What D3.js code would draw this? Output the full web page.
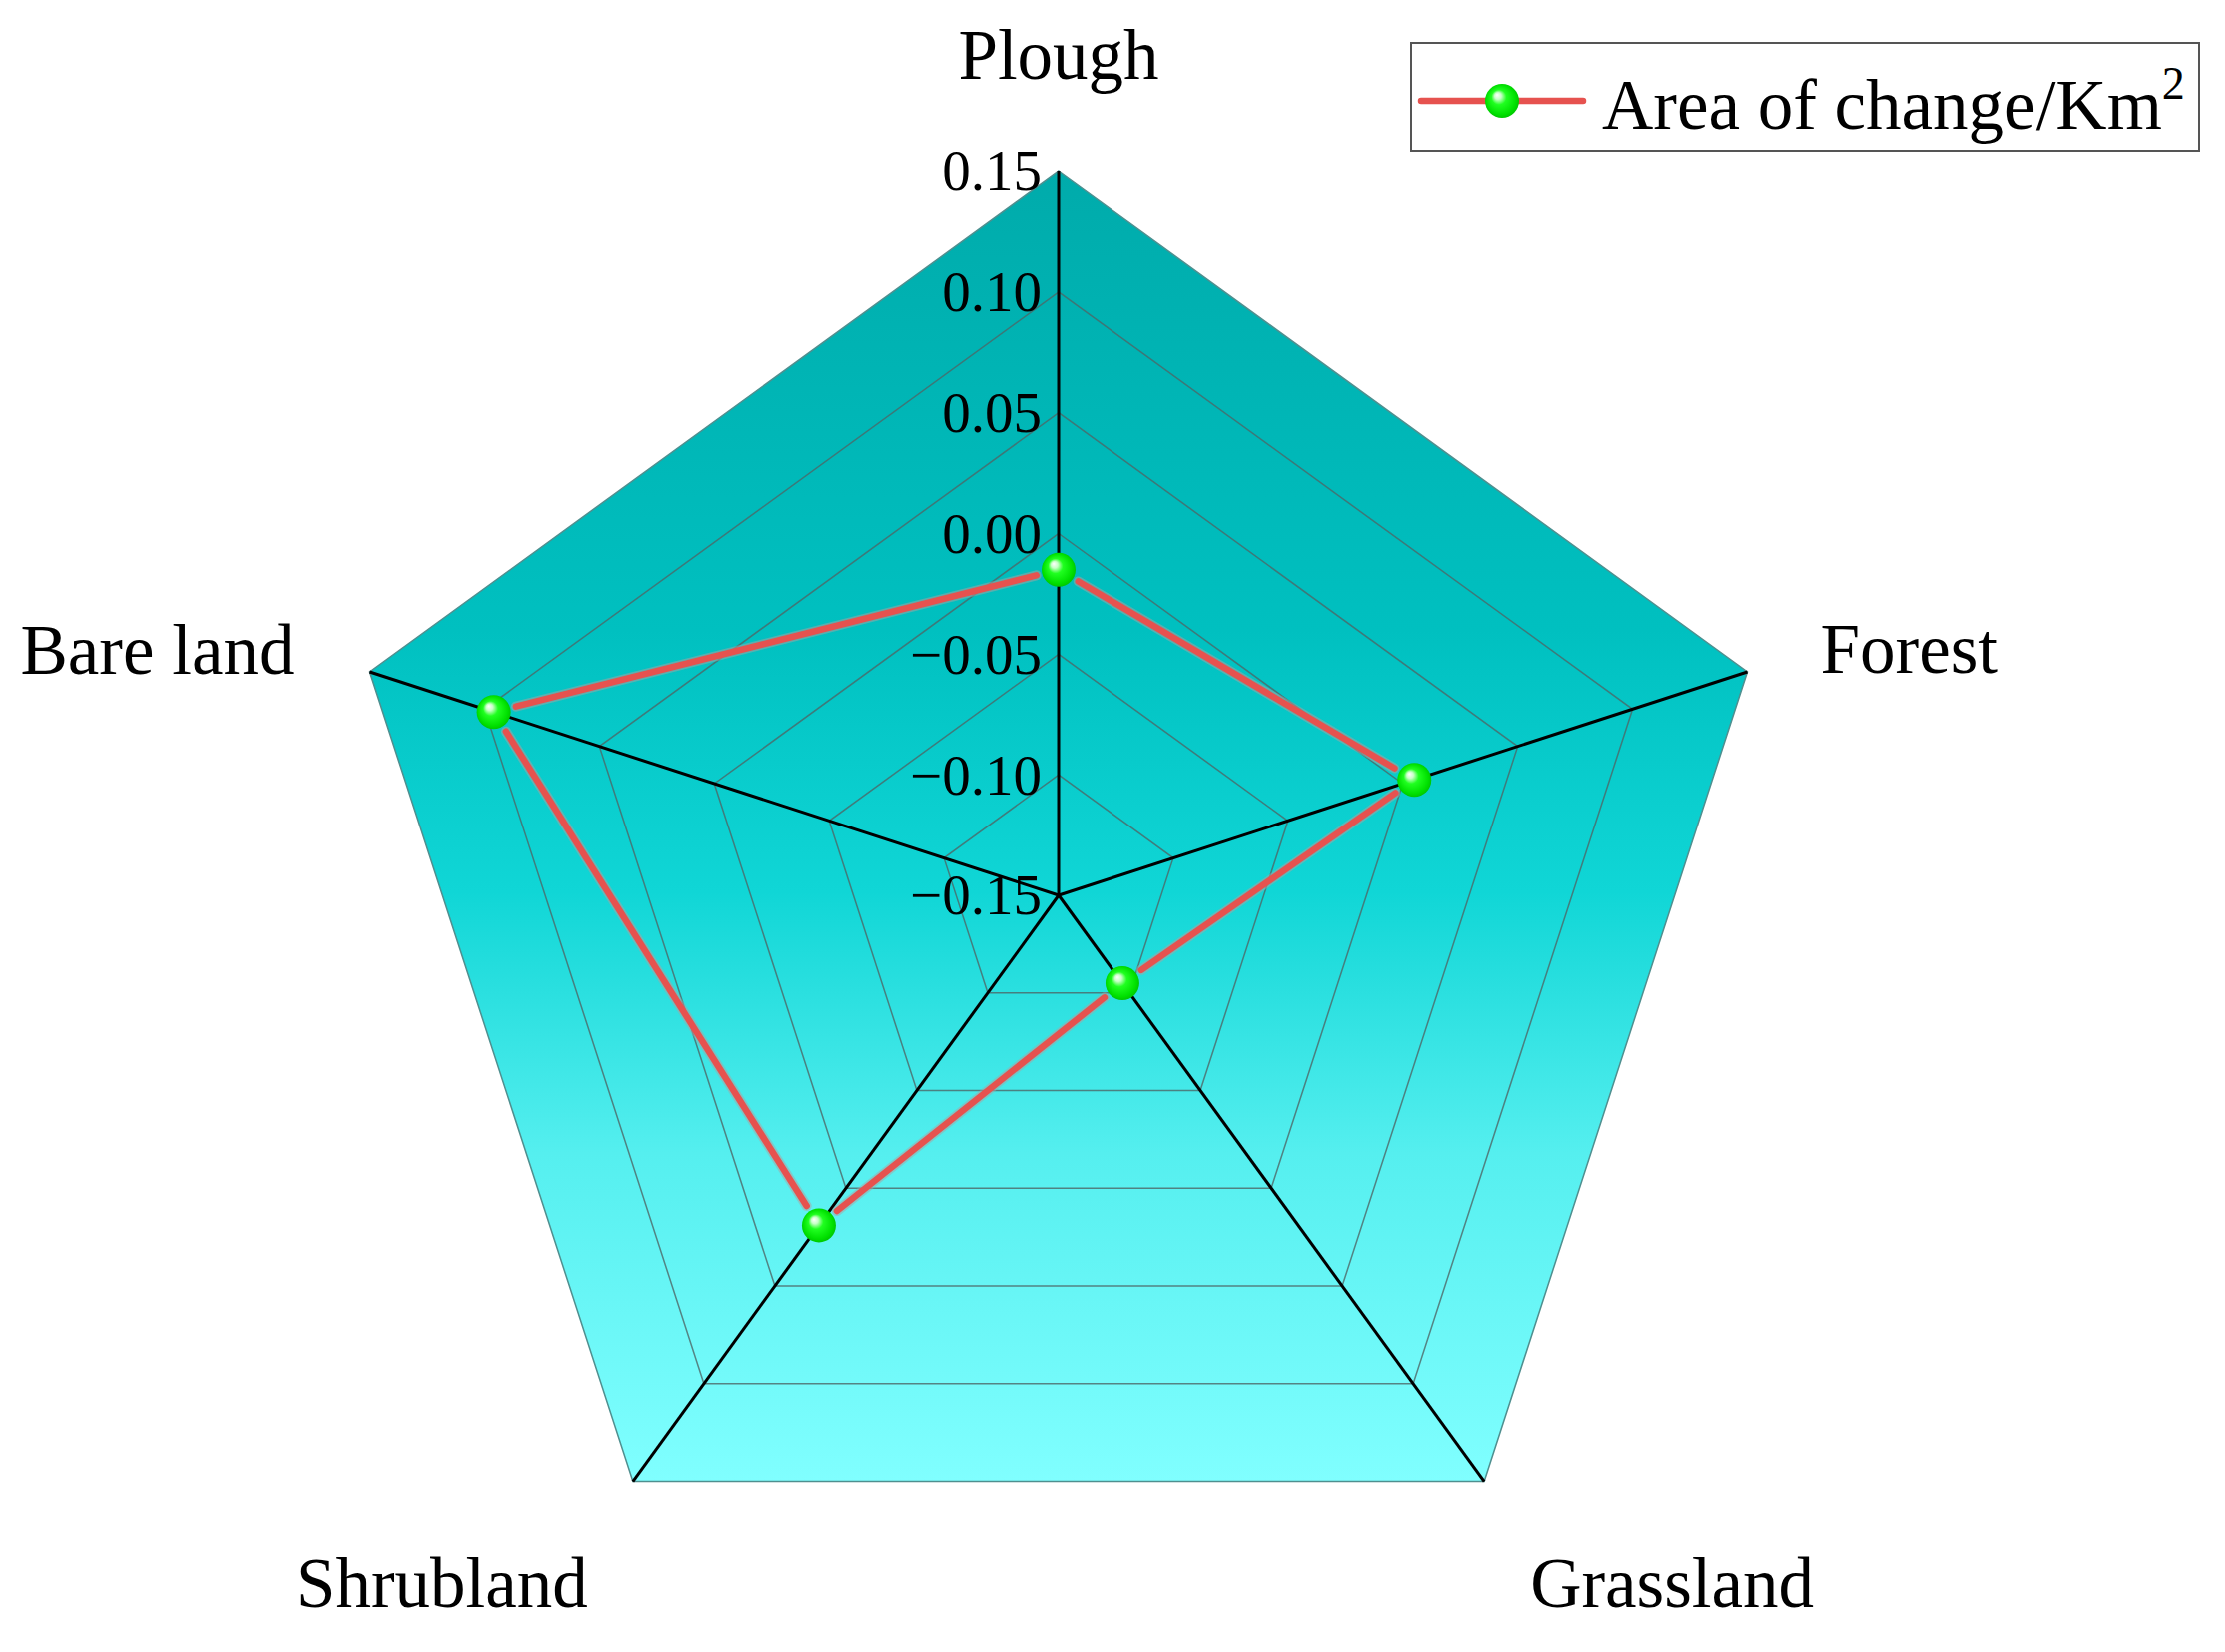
<!DOCTYPE html>
<html>
<head>
<meta charset="utf-8">
<script src="https://cdn.jsdelivr.net/npm/d3@7"></script>
<style>
  body { margin: 0; background: #fff; }
  text { font-family: "Liberation Serif", "Times New Roman", serif; fill: #000; }
</style>
</head>
<body>
<script>
// land use categories, clockwise from the top
var categories = ["Plough", "Forest", "Grassland", "Shrubland", "Bare land"];
var areaChange = [-0.015, 0.005, -0.105, 0.019, 0.096];
var tickValues = [-0.15, -0.10, -0.05, 0.00, 0.05, 0.10, 0.15];
var seriesName = "Area of change/Km";

var w = 2226,
    h = 1653,
    cx = 1059,
    cy = 896,
    R = 725;

var svg = d3.select("body").append("svg")
    .attr("width", w)
    .attr("height", h);

var r = d3.scaleLinear().domain([-0.15, 0.15]).range([0, R]);
var angle = d3.scaleLinear().domain([0, categories.length]).range([0, 2 * Math.PI]);

var defs = svg.append("defs");

var grad = defs.append("linearGradient")
    .attr("id", "bg")
    .attr("x1", 0).attr("y1", 0).attr("x2", 0).attr("y2", 1);
[[0, "#00abab"], [0.35, "#00c0c0"], [0.55, "#10d6d6"], [0.75, "#55efef"], [1, "#80ffff"]]
    .forEach(function(s) {
        grad.append("stop").attr("offset", s[0]).attr("stop-color", s[1]);
    });

var ball = defs.append("radialGradient")
    .attr("id", "ball")
    .attr("cx", "0.5").attr("cy", "0.5").attr("r", "0.55")
    .attr("fx", "0.35").attr("fy", "0.32");
[[0, "#ffffff"], [0.18, "#c8ffc8"], [0.4, "#20ff20"], [0.8, "#00e000"], [1, "#00bb00"]]
    .forEach(function(s) {
        ball.append("stop").attr("offset", s[0]).attr("stop-color", s[1]);
    });

var g = svg.append("g").attr("transform", "translate(" + cx + "," + cy + ")");

function ring(v) {
    return d3.lineRadial()
        .angle(function(d, i) { return angle(i); })
        .radius(r(v))
        .curve(d3.curveLinearClosed)(categories);
}

// filled background
g.append("path")
    .attr("d", ring(0.15))
    .attr("fill", "url(#bg)")
    .attr("stroke", "#4f8f8f")
    .attr("stroke-width", 1.5);

// grid rings
g.selectAll(".grid")
    .data(tickValues.slice(1, -1))
    .enter().append("path")
    .attr("class", "grid")
    .attr("d", ring)
    .attr("fill", "none")
    .attr("stroke", "#4d6666")
    .attr("stroke-opacity", 0.8)
    .attr("stroke-width", 1.5);

// spokes
g.selectAll(".spoke")
    .data(categories)
    .enter().append("line")
    .attr("class", "spoke")
    .attr("x1", 0).attr("y1", 0)
    .attr("x2", function(d, i) { return d3.pointRadial(angle(i), R)[0]; })
    .attr("y2", function(d, i) { return d3.pointRadial(angle(i), R)[1]; })
    .attr("stroke", "#000")
    .attr("stroke-width", 3);

// data line, drawn as segments that stop short of the markers
var pts = areaChange.map(function(v, i) { return d3.pointRadial(angle(i), r(v)); });
var markerR = 17, gap = 6;
var segs = pts.map(function(p, i) {
    var q = pts[(i + 1) % pts.length];
    var dx = q[0] - p[0], dy = q[1] - p[1], len = Math.sqrt(dx * dx + dy * dy);
    var k = (markerR + gap) / len;
    return [p[0] + dx * k, p[1] + dy * k, q[0] - dx * k, q[1] - dy * k];
});

g.selectAll(".halo")
    .data(segs)
    .enter().append("line")
    .attr("class", "halo")
    .attr("x1", function(d) { return d[0]; }).attr("y1", function(d) { return d[1]; })
    .attr("x2", function(d) { return d[2]; }).attr("y2", function(d) { return d[3]; })
    .attr("stroke", "#b0a0a0")
    .attr("stroke-opacity", 0.5)
    .attr("stroke-width", 10)
    .attr("stroke-linecap", "round");

g.selectAll(".seg")
    .data(segs)
    .enter().append("line")
    .attr("class", "seg")
    .attr("x1", function(d) { return d[0]; }).attr("y1", function(d) { return d[1]; })
    .attr("x2", function(d) { return d[2]; }).attr("y2", function(d) { return d[3]; })
    .attr("stroke", "#e6524f")
    .attr("stroke-width", 6.5)
    .attr("stroke-linecap", "round");

g.selectAll(".dot")
    .data(pts)
    .enter().append("circle")
    .attr("class", "dot")
    .attr("cx", function(d) { return d[0]; })
    .attr("cy", function(d) { return d[1]; })
    .attr("r", markerR)
    .attr("fill", "url(#ball)");

// tick labels along the Plough spoke
var fmt = d3.format(".2f");
g.selectAll(".tick")
    .data(tickValues)
    .enter().append("text")
    .attr("class", "tick")
    .attr("x", -17)
    .attr("y", function(d) { return -r(d); })
    .attr("dy", "0.34em")
    .attr("text-anchor", "end")
    .style("font-size", "57px")
    .text(fmt);

// category labels, offset from their vertices
var labelPos = [
    { dx: 0, dy: -92, anchor: "middle" },
    { dx: 73, dy: 1, anchor: "start" },
    { dx: 188, dy: 125, anchor: "middle" },
    { dx: -191, dy: 125, anchor: "middle" },
    { dx: -75, dy: 2, anchor: "end" }
];
g.selectAll(".cat")
    .data(categories)
    .enter().append("text")
    .attr("class", "cat")
    .attr("x", function(d, i) { return d3.pointRadial(angle(i), R)[0] + labelPos[i].dx; })
    .attr("y", function(d, i) { return d3.pointRadial(angle(i), R)[1] + labelPos[i].dy; })
    .attr("text-anchor", function(d, i) { return labelPos[i].anchor; })
    .style("font-size", "71px")
    .text(function(d) { return d; });

// legend
var leg = svg.append("g").attr("transform", "translate(1412,43)");
leg.append("rect")
    .attr("width", 788).attr("height", 108)
    .attr("fill", "#fff")
    .attr("stroke", "#555")
    .attr("stroke-width", 2);
leg.append("line")
    .attr("x1", 10).attr("x2", 172).attr("y1", 58).attr("y2", 58)
    .attr("stroke", "#e6524f").attr("stroke-width", 6.5).attr("stroke-linecap", "round");
leg.append("circle")
    .attr("cx", 91).attr("cy", 58).attr("r", markerR)
    .attr("fill", "url(#ball)");
var lt = leg.append("text")
    .attr("x", 191).attr("y", 86)
    .style("font-size", "71px")
    .text(seriesName);
lt.append("tspan")
    .attr("dy", -30)
    .style("font-size", "46px")
    .text("2");
</script>
</body>
</html>
